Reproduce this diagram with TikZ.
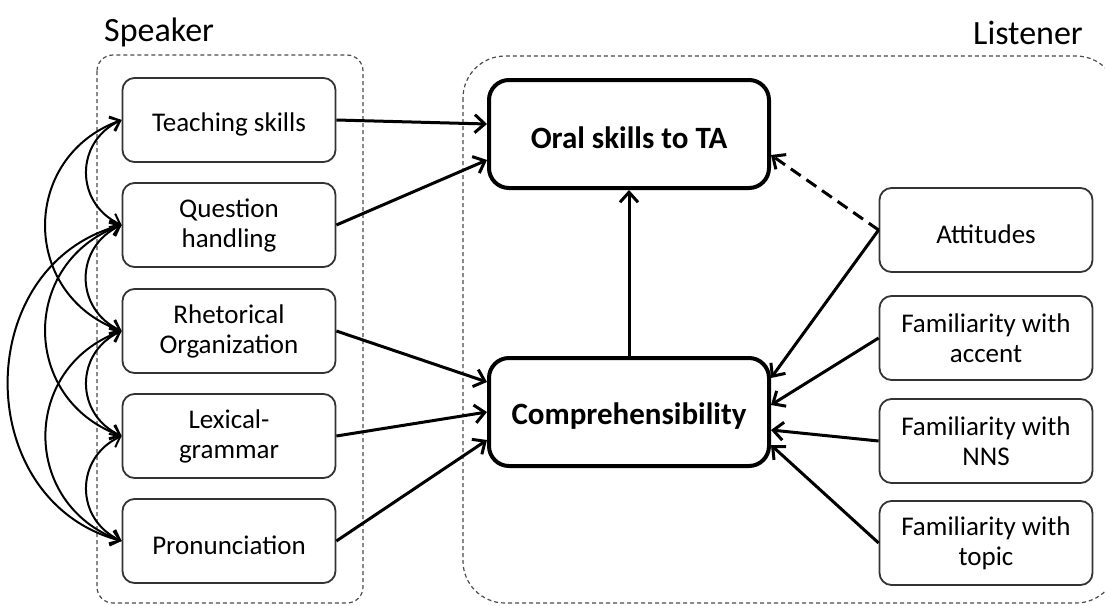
\documentclass[tikz,border=0pt]{standalone}
\usepackage{fontspec}
\setmainfont{Carlito}
\usetikzlibrary{arrows.meta}

\begin{document}
\begin{tikzpicture}[x=1pt,y=1pt,
  smallbox/.style={draw=black!80, line width=1.8pt, rounded corners=12pt,
    minimum width=213pt, minimum height=84pt, align=center, inner sep=0pt,
    font=\fontsize{27}{30}\selectfont,
    execute at begin node={\rule{0pt}{27pt}}},
  bigbox/.style={draw=black, line width=4pt, rounded corners=20pt,
    minimum width=280pt, minimum height=108pt, inner sep=0pt,
    font=\bfseries\fontsize{31}{34}\selectfont,
    execute at begin node={\rule{0pt}{29pt}}},
  groupbox/.style={draw=black!70, line width=1.2pt, dash pattern=on 4pt off 3pt},
  grouplabel/.style={font=\fontsize{34}{37}\selectfont, inner sep=0pt},
  link/.style={line width=3pt, -{Straight Barb[length=10pt,width=18pt]}},
  pair/.style={line width=2pt,
    {Straight Barb[length=9pt,width=15pt]}-{Straight Barb[length=9pt,width=15pt]}},
]
\useasboundingbox (0,0) rectangle (1105,-605);

% dashed groups
\draw[groupbox, rounded corners=16pt] (97,-55) rectangle (363,-603);
\begin{scope}
  \clip (0,0) rectangle (1105,-605);
  \draw[groupbox, rounded corners=42pt] (463,-56) rectangle (1118,-603);
\end{scope}

\node[grouplabel, anchor=base west] (spk) at (104,-41) {Speaker};
\node[grouplabel, anchor=base east] (lis) at (1083,-44) {Listener};

% speaker factors
\node[smallbox] (teach) at (229,-120) {Teaching skills};
\node[smallbox] (quest) at (229,-225) {Question\\handling};
\node[smallbox] (rhet)  at (229,-331) {Rhetorical\\Organization};
\node[smallbox] (lex)   at (229,-436) {Lexical-\\grammar};
\node[smallbox] (pron)  at (229,-541) {Pronunciation};

% outcomes
\node[bigbox] (oral) at (629,-134) {Oral skills to TA};
\node[bigbox] (comp) at (629,-412) {Comprehensibility};

% listener factors
\node[smallbox] (att)   at (986,-230) {Attitudes};
\node[smallbox] (acc)   at (986,-338) {Familiarity with\\accent};
\node[smallbox] (nns)   at (986,-441) {Familiarity with\\NNS};
\node[smallbox] (topic) at (986,-543) {Familiarity with\\topic};

% correlations among speaker factors
\draw[pair] (teach.west) to[out=205,in=155,looseness=1.26] (quest.west);
\draw[pair] (quest.west) to[out=205,in=155,looseness=1.26] (rhet.west);
\draw[pair] (rhet.west)  to[out=205,in=155,looseness=1.26] (lex.west);
\draw[pair] (lex.west)   to[out=205,in=155,looseness=1.26] (pron.west);
\draw[pair] (teach.west) to[out=200,in=160,looseness=1.31] (rhet.west);
\draw[pair] (quest.west) to[out=200,in=160,looseness=1.31] (lex.west);
\draw[pair] (rhet.west)  to[out=200,in=160,looseness=1.31] (pron.west);
\draw[pair] (quest.west) to[out=195,in=165,looseness=1.27] (pron.west);

% speaker paths
\draw[link] (teach.east) -- ([yshift=10pt]oral.west);
\draw[link] (quest.east) -- ([yshift=-26pt]oral.west);
\draw[link] (rhet.east)  -- ([yshift=30pt]comp.west);
\draw[link] (lex.east)   -- (comp.west);
\draw[link] (pron.east)  -- ([yshift=-28pt]comp.west);

\draw[link] (comp.north) -- (oral.south);

% listener paths
\draw[link, dash pattern=on 12pt off 7pt] (att.west) -- ([yshift=-21pt]oral.east);
\draw[link] (att.west)   -- ([yshift=34pt]comp.east);
\draw[link] (acc.west)   -- ([yshift=7pt]comp.east);
\draw[link] (nns.west)   -- ([yshift=-18pt]comp.east);
\draw[link] (topic.west) -- ([yshift=-33pt]comp.east);
\end{tikzpicture}
\end{document}
